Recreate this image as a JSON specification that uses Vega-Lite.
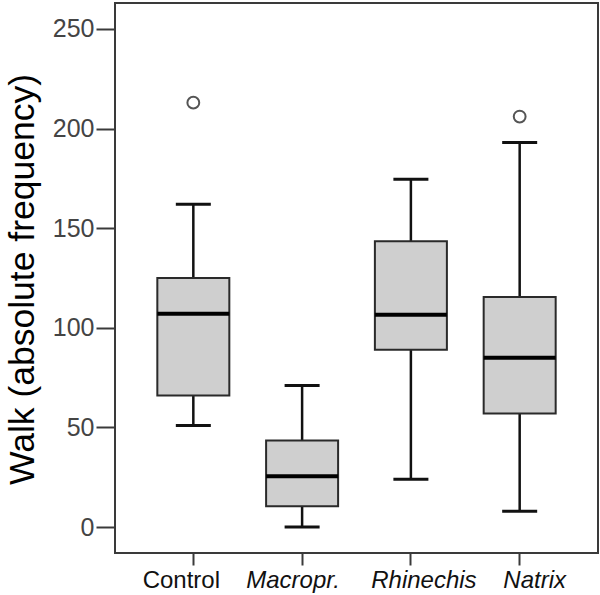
{
  "$schema": "https://vega.github.io/schema/vega-lite/v6.json",
  "autosize": {"type": "none"},
  "width": 483,
  "height": 550,
  "padding": {"left": 115, "top": 3, "right": 2, "bottom": 42},
  "background": "white",
  "config": {
    "view": {"stroke": "#3a3a3a", "strokeWidth": 2},
    "axis": {"grid": false, "domain": false}
  },
  "datasets": {
    "boxes": [
      {"group": "Control", "min": 51, "q1": 66, "median": 107, "q3": 125, "max": 162},
      {"group": "Macropr.", "min": 0, "q1": 10.5, "median": 25.5, "q3": 43.5, "max": 71},
      {"group": "Rhinechis", "min": 24, "q1": 89, "median": 106.5, "q3": 143.5, "max": 174.5},
      {"group": "Natrix", "min": 8, "q1": 57, "median": 85, "q3": 115.5, "max": 193}
    ],
    "outliers": [
      {"group": "Control", "value": 213},
      {"group": "Natrix", "value": 206}
    ]
  },
  "data": {"name": "boxes"},
  "encoding": {
    "x": {
      "field": "group", "type": "nominal",
      "sort": ["Control", "Macropr.", "Rhinechis", "Natrix"],
      "scale": {"paddingInner": 0, "paddingOuter": 0.22},
      "axis": {
        "title": null, "labelAngle": 0, "labelFont": "Liberation Sans", "labelFontSize": 24,
        "labelColor": "#111",
        "labelFontStyle": {"condition": {"test": "datum.value == 'Control'", "value": "normal"}, "value": "italic"},
        "labelOffset": {"condition": [
          {"test": "datum.value == 'Control'", "value": -12},
          {"test": "datum.value == 'Macropr.'", "value": -9},
          {"test": "datum.value == 'Rhinechis'", "value": 13}
        ], "value": 15},
        "tickSize": 12, "tickWidth": 2, "tickColor": "#3a3a3a", "labelPadding": 3
      }
    }
  },
  "layer": [
    {
      "mark": {"type": "rule", "color": "#111", "strokeWidth": 2.5},
      "encoding": {
        "y": {
          "field": "min", "type": "quantitative",
          "scale": {"domain": [-13, 263], "nice": false, "zero": false},
          "axis": {
            "title": "Walk (absolute frequency)",
            "values": [0, 50, 100, 150, 200, 250],
            "labelFont": "Liberation Sans", "labelFontSize": 25, "labelColor": "#444",
            "tickSize": 19, "tickWidth": 2, "tickColor": "#3a3a3a", "labelPadding": 2,
            "titleFont": "Liberation Sans", "titleFontSize": 35.5, "titleFontWeight": "normal", "titleColor": "#000",
            "titleX": -82, "titleY": 276, "titleAngle": -90, "titleAlign": "center", "titleBaseline": "alphabetic"
          }
        },
        "y2": {"field": "max"}
      }
    },
    {
      "mark": {"type": "tick", "color": "#111", "size": 35, "thickness": 3, "opacity": 1},
      "encoding": {"y": {"field": "min", "type": "quantitative"}}
    },
    {
      "mark": {"type": "tick", "color": "#111", "size": 35, "thickness": 3, "opacity": 1},
      "encoding": {"y": {"field": "max", "type": "quantitative"}}
    },
    {
      "mark": {"type": "bar", "size": 72, "fill": "#cfcfcf", "stroke": "#2a2a2a", "strokeWidth": 2, "opacity": 1},
      "encoding": {"y": {"field": "q1", "type": "quantitative"}, "y2": {"field": "q3"}}
    },
    {
      "mark": {"type": "tick", "color": "#000", "size": 72, "thickness": 4, "opacity": 1},
      "encoding": {"y": {"field": "median", "type": "quantitative"}}
    },
    {
      "data": {"name": "outliers"},
      "mark": {"type": "point", "shape": "circle", "size": 140, "filled": false, "fill": "white", "stroke": "#555", "strokeWidth": 2, "opacity": 1},
      "encoding": {"y": {"field": "value", "type": "quantitative"}}
    }
  ]
}
